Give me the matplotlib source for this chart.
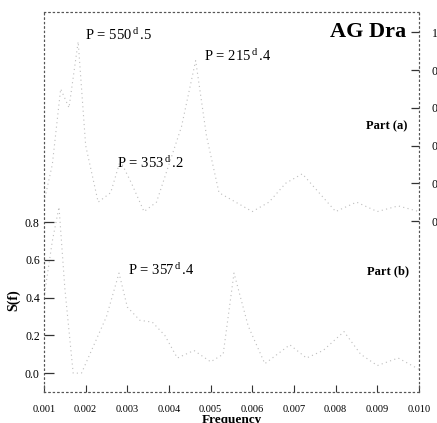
import matplotlib
matplotlib.use("Agg")
import matplotlib.pyplot as plt

plt.rcParams['font.family'] = ['Liberation Serif', 'DejaVu Serif']
plt.rcParams['mathtext.fontset'] = 'custom'
plt.rcParams['mathtext.rm'] = 'Liberation Serif'
plt.rcParams['mathtext.it'] = 'Liberation Serif:italic'
plt.rcParams['mathtext.bf'] = 'Liberation Serif:bold'

# ---- data ----
freq_a = [0.0010, 0.0012, 0.0014, 0.0016, 0.00182, 0.0020, 0.0023, 0.0026, 0.00283,
          0.0031, 0.0034, 0.0037, 0.0040, 0.0043, 0.00464, 0.0049, 0.0052, 0.0056,
          0.0060, 0.0064, 0.0068, 0.0072, 0.0076, 0.0080, 0.0085, 0.0090, 0.0095, 0.0100]
power_a = [0.10, 0.30, 0.70, 0.60, 0.95, 0.40, 0.10, 0.15, 0.32,
           0.20, 0.05, 0.10, 0.30, 0.50, 0.85, 0.45, 0.15, 0.10,
           0.05, 0.10, 0.20, 0.25, 0.15, 0.05, 0.10, 0.05, 0.08, 0.05]

freq_b = [0.0010, 0.0012, 0.00136, 0.0015, 0.0017, 0.0019, 0.0022, 0.0025, 0.0028,
          0.0030, 0.0033, 0.0036, 0.0039, 0.0042, 0.0046, 0.0050, 0.0053, 0.00556,
          0.0059, 0.0063, 0.0066, 0.0069, 0.0073, 0.0077, 0.0082, 0.0086, 0.0090,
          0.0095, 0.0100]
power_b = [0.40, 0.70, 0.88, 0.45, 0.00, 0.00, 0.15, 0.30, 0.53,
           0.35, 0.28, 0.27, 0.20, 0.08, 0.12, 0.06, 0.10, 0.53,
           0.25, 0.05, 0.10, 0.15, 0.08, 0.12, 0.22, 0.10, 0.04,
           0.08, 0.02]

xticks = [0.001, 0.002, 0.003, 0.004, 0.005, 0.006, 0.007, 0.008, 0.009, 0.010]
xticklabels = ['0.001', '0.002', '0.003', '0.004', '0.005', '0.006', '0.007', '0.008', '0.009', '0.010']
yticks_b = [0.0, 0.2, 0.4, 0.6, 0.8]
yticks_a = [0.0, 0.2, 0.4, 0.6, 0.8, 1.0]

W, H = 437, 423
fig = plt.figure(figsize=(W / 100, H / 100), dpi=100)
L, R, B, T = 44, 419, 392, 12
ax = fig.add_axes([L / W, 1 - B / H, (R - L) / W, (B - T) / H])

scale = 188.75  # px per unit
ax.set_xlim(0.001, 0.010)
ax.set_ylim(-0.1, -0.1 + (B - T) / scale)

axa = ax.twinx()
zero_a = 221
axa.set_ylim(-(B - zero_a) / scale, (zero_a - T) / scale)

line_kw = dict(color='#bdbdbd', lw=0.8, ls=(0, (1, 3)))
ax.plot(freq_b, power_b, **line_kw)
axa.plot(freq_a, power_a, **line_kw)

for a in (ax, axa):
    for s in a.spines.values():
        s.set_linestyle((0, (1, 3)))
        s.set_color('#555555')
        s.set_linewidth(0.8)

ax.set_xticks(xticks)
ax.set_xticklabels(xticklabels, fontsize=7.5)
ax.set_yticks(yticks_b)
ax.set_yticklabels(['%.1f' % v for v in yticks_b], fontsize=8.5)
ax.tick_params(axis='y', direction='in', length=7, width=0.9, color='#333333', pad=3)
ax.tick_params(axis='x', direction='in', length=5, width=0.8, color='#333333', pad=9)
axa.set_yticks(yticks_a)
axa.set_yticklabels(['%.1f' % v for v in yticks_a], fontsize=8.5)
axa.tick_params(axis='y', direction='in', length=6, width=0.9, color='#333333', pad=9)

ax.set_xlabel('Frequency', fontsize=9.5, fontweight='bold', labelpad=0)
fig.text(14 / W, 1 - 300 / H, 'S(f)', rotation=90, fontsize=10, fontweight='bold',
         ha='center', va='center')

def ftext(x, y, s, **kw):
    fig.text(x / W, 1 - y / H, s, **kw)

ftext(85, 35, r'P = 550$\,^{\rm d}\,$.5', fontsize=10.5, va='center')
ftext(204, 56, r'P = 215$\,^{\rm d}\,$.4', fontsize=10.5, va='center')
ftext(117, 163, r'P = 353$\,^{\rm d}\,$.2', fontsize=10.5, va='center')
ftext(128, 270, r'P = 357$\,^{\rm d}\,$.4', fontsize=10.5, va='center')
ftext(406, 32, 'AG Dra', fontsize=16, fontweight='bold', ha='right', va='center')
ftext(407, 126, 'Part (a)', fontsize=9, fontweight='bold', ha='right', va='center')
ftext(409, 271, 'Part (b)', fontsize=9, fontweight='bold', ha='right', va='center')

fig.savefig('out.png', dpi=100)
